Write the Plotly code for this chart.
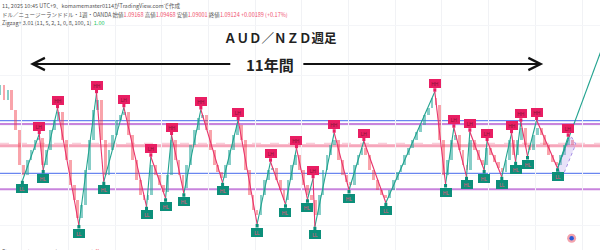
import plotly.graph_objects as go
import pandas as pd

# ---------------- data ----------------
# monthly closes (approx. read from the candles), starting 2013-07
first_open = 1.130
closes = [
    1.140, 1.125, 1.135, 1.115, 1.095, 1.060,                      # 2013 H2
    1.050, 1.065, 1.075, 1.085, 1.087, 1.060, 1.075, 1.095, 1.105, 1.113, 1.085, 1.065,  # 2014
    1.040, 1.025, 1.007, 1.020, 1.055, 1.085, 1.115, 1.125, 1.085, 1.050, 1.075, 1.090,  # 2015
    1.105, 1.110, 1.113, 1.090, 1.065, 1.045, 1.030, 1.025, 1.030, 1.060, 1.050, 1.040,  # 2016
    1.033, 1.050, 1.085, 1.065, 1.050, 1.037, 1.060, 1.080, 1.095, 1.107, 1.110, 1.095,  # 2017
    1.075, 1.060, 1.053, 1.047, 1.060, 1.075, 1.090, 1.100, 1.085, 1.055, 1.030, 1.015,  # 2018
    1.010, 1.030, 1.045, 1.055, 1.057, 1.045, 1.035, 1.025, 1.045, 1.060, 1.070, 1.055,  # 2019
    1.040, 1.030, 1.025, 1.010, 1.030, 1.055, 1.070, 1.080, 1.085, 1.065, 1.050, 1.043,  # 2020
    1.040, 1.060, 1.070, 1.077, 1.070, 1.055, 1.045, 1.035, 1.030, 1.027, 1.035, 1.045,  # 2021
    1.053, 1.060, 1.070, 1.077, 1.085, 1.093, 1.100, 1.110, 1.117, 1.127, 1.120, 1.085,  # 2022
    1.050, 1.065, 1.085, 1.090, 1.075, 1.060, 1.055, 1.085, 1.075, 1.065, 1.060, 1.077,  # 2023
    1.070, 1.063, 1.057, 1.053, 1.065, 1.085, 1.070, 1.085, 1.097, 1.080, 1.075, 1.090,  # 2024
    1.097, 1.090, 1.080, 1.070, 1.063, 1.060, 1.070, 1.080, 1.085, 1.080,                # 2025
]

# zigzag pivots
piv_dates = ["2014-01-06", "2014-05-18", "2014-06-18", "2014-10-08", "2015-03-24",
             "2015-08-09", "2015-10-05", "2016-03-10", "2016-09-03", "2016-10-07",
             "2017-01-30", "2017-03-18", "2017-06-22", "2017-11-02", "2018-04-21",
             "2018-08-21", "2019-01-16", "2019-05-01", "2019-08-26", "2019-11-20",
             "2020-02-14", "2020-03-29", "2020-04-12", "2020-09-10", "2021-01-04",
             "2021-04-30", "2021-10-19", "2022-11-06", "2023-01-29", "2023-04-04",
             "2023-07-12", "2023-08-07", "2023-11-27", "2023-12-20", "2024-04-13",
             "2024-06-28", "2024-07-30", "2024-09-09", "2024-10-31", "2025-01-10",
             "2025-06-23", "2025-09-14"]
piv_prices = [1.0443, 1.0910, 1.0550, 1.1167, 1.0000, 1.1317, 1.0433, 1.1177, 1.0183, 1.0683,
              1.0267, 1.0900, 1.0317, 1.1155, 1.0423, 1.1050, 1.0010, 1.0633, 1.0207, 1.0767,
              1.0257, 1.0467, 0.9983, 1.0923, 1.0350, 1.0840, 1.0223, 1.1333, 1.0410, 1.0973,
              1.0483, 1.0933, 1.0550, 1.0840, 1.0483, 1.0917, 1.0633, 1.1033, 1.0690, 1.1050,
              1.0567, 1.0883]
piv_labels = ["LL", "LH", "HL", "HH", "LL", "HH", "HL", "LH", "LL", "LH",
              "HL", "HH", "HL", "HH", "HL", "LH", "LL", "LH", "HL", "HH",
              "HL", "LH", "LL", "HH", "HL", "LH", "LL", "HH", "HL", "LH",
              "HL", "LH", "HL", "LH", "LL", "HH", "HL", "HH", "HL", "HH",
              "LL", "LH"]

# projected leg after the last low
proj_date, proj_price = "2026-10-23", 1.225

# horizontal levels
level_blue = [1.1043, 1.0517]
level_purple = [1.1010, 1.0357]
level_pink = 1.0793
level_pink_dash = 1.0817

# small channel drawing
chan_dates = ["2025-06-23", "2025-10-05", "2025-11-13", "2025-08-02", "2025-06-23"]
chan_prices = [1.0567, 1.089, 1.081, 1.0487, 1.0567]

# 11-year span arrow
span_start, span_end = "2014-03-07", "2025-03-03"
span_gap_left, span_gap_right = "2018-07-02", "2020-01-01"
span_label_date = "2019-04-23"
span_price = 1.161

icon_date, icon_price = "2025-10-11", 0.9867

# ---------------- figure ----------------
UP = "#22a38f"
DOWN = "#e8336b"
LBL_H = "#e91e63"
LBL_L = "#0c8f7a"
FONT = "Noto Sans CJK JP, Roboto, sans-serif"

fig = go.Figure()

# candles (monthly bodies)
month_dates = pd.date_range("2013-07-01", periods=len(closes), freq="MS") + pd.Timedelta(days=14)
opens = [first_open] + closes[:-1]
colors = ["rgba(38,166,154,0.55)" if c >= o else "rgba(242,54,69,0.45)" for o, c in zip(opens, closes)]
fig.add_trace(go.Bar(x=list(month_dates), y=[c - o for o, c in zip(opens, closes)], base=opens,
                     width=22 * 86400000, marker=dict(color=colors, line=dict(width=0)),
                     hoverinfo="skip", showlegend=False))

# channel
fig.add_trace(go.Scatter(x=chan_dates, y=chan_prices, mode="lines", fill="toself",
                         fillcolor="rgba(180,160,235,0.30)",
                         line=dict(color="rgba(150,120,225,0.8)", width=1, dash="dot"),
                         hoverinfo="skip", showlegend=False))

# zigzag legs
ux, uy, dx, dy = [], [], [], []
for i in range(len(piv_dates) - 1):
    seg_x = [piv_dates[i], piv_dates[i + 1], None]
    seg_y = [piv_prices[i], piv_prices[i + 1], None]
    if piv_prices[i + 1] > piv_prices[i]:
        ux += seg_x; uy += seg_y
    else:
        dx += seg_x; dy += seg_y
ux += [piv_dates[-2], proj_date, None]
uy += [piv_prices[-2], proj_price, None]
fig.add_trace(go.Scatter(x=ux, y=uy, mode="lines", line=dict(color=UP, width=1.1),
                         hoverinfo="skip", showlegend=False, connectgaps=False))
fig.add_trace(go.Scatter(x=dx, y=dy, mode="lines", line=dict(color=DOWN, width=1.1),
                         hoverinfo="skip", showlegend=False, connectgaps=False))

# icon
fig.add_trace(go.Scatter(x=[icon_date], y=[icon_price], mode="markers",
                         marker=dict(size=9, color="#f3a3ad", line=dict(width=0)),
                         hoverinfo="skip", showlegend=False))
fig.add_trace(go.Scatter(x=[icon_date], y=[icon_price], mode="markers",
                         marker=dict(size=4.5, color="#2a5bd7"),
                         hoverinfo="skip", showlegend=False))

shapes = []
for v in level_blue:
    shapes.append(dict(type="line", xref="paper", x0=0, x1=1, yref="y", y0=v, y1=v,
                       line=dict(color="#6a86f0", width=1.3), layer="below"))
for v in level_purple:
    shapes.append(dict(type="line", xref="paper", x0=0, x1=1, yref="y", y0=v, y1=v,
                       line=dict(color="rgba(190,110,215,0.85)", width=2), layer="below"))
shapes.append(dict(type="line", xref="paper", x0=0, x1=1, yref="y", y0=level_pink, y1=level_pink,
                   line=dict(color="rgba(245,150,175,0.85)", width=3), layer="below"))
shapes.append(dict(type="line", xref="paper", x0=0, x1=1, yref="y", y0=level_pink_dash, y1=level_pink_dash,
                   line=dict(color="rgba(245,150,175,0.6)", width=1, dash="dash"), layer="below"))

annotations = []
for d, p, lab in zip(piv_dates, piv_prices, piv_labels):
    high = lab in ("HH", "LH")
    annotations.append(dict(
        x=d, y=p, xref="x", yref="y", text=lab, showarrow=True,
        ax=0, ay=-8 if high else 8, axref="pixel", ayref="pixel",
        arrowhead=0, arrowwidth=3, arrowcolor=LBL_H if high else LBL_L, standoff=0,
        bgcolor=LBL_H if high else LBL_L, borderpad=1.5, borderwidth=0,
        width=9, height=6, align="center", valign="middle",
        font=dict(size=5, color="#8a1538" if high else "#e0577a", family="Roboto")))

# span arrow
annotations.append(dict(x=span_start, y=span_price, ax=span_gap_left, ay=span_price,
                        xref="x", yref="y", axref="x", ayref="y", text="", showarrow=True,
                        arrowhead=5, arrowwidth=2, arrowsize=1.2, arrowcolor="#111", standoff=0))
annotations.append(dict(x=span_end, y=span_price, ax=span_gap_right, ay=span_price,
                        xref="x", yref="y", axref="x", ayref="y", text="", showarrow=True,
                        arrowhead=5, arrowwidth=2, arrowsize=1.2, arrowcolor="#111", standoff=0))
annotations.append(dict(x=span_label_date, y=span_price, xref="x", yref="y", text="<b>11年間</b>",
                        showarrow=False, yanchor="middle",
                        font=dict(size=15, color="#222", family=FONT)))

# title
annotations.append(dict(x=0.4667, y=0.851, xref="paper", yref="paper",
                        xanchor="center", yanchor="middle",
                        text="<b>ＡＵＤ／ＮＺＤ週足</b>", showarrow=False,
                        font=dict(size=12.5, color="#222", family=FONT)))

# header lines
R = "#f0506e"
annotations.append(dict(x=0, y=0.977, xref="paper", yref="paper", xanchor="left", yanchor="middle",
                        text="11, 2025 10:45 UTC+9、komamemaster0114がTradingView.comで作成",
                        showarrow=False, font=dict(size=5.5, color="#555", family=FONT)))
annotations.append(dict(x=0, y=0.94, xref="paper", yref="paper", xanchor="left", yanchor="middle",
                        text=("ドル／ニュージーランドドル・1週・OANDA 始値<span style='color:%s'>1.09168</span> "
                              "高値<span style='color:%s'>1.09468</span> 安値<span style='color:%s'>1.09001</span> "
                              "終値<span style='color:%s'>1.09124 +0.00189 (+0.17%%)</span>") % (R, R, R, R),
                        showarrow=False, font=dict(size=5.5, color="#555", family=FONT)))
annotations.append(dict(x=0, y=0.907, xref="paper", yref="paper", xanchor="left", yanchor="middle",
                        text="Zigzag+ 3.01 (11, 5, 2, 1, 0, 8, 100, 1)  <span style='color:#22c55e'>1.00</span>",
                        showarrow=False, font=dict(size=5.5, color="#555", family=FONT)))
annotations.append(dict(x=0, y=0.016, xref="paper", yref="paper", xanchor="left", yanchor="top",
                        text=("Show pat (9, 26, 52, close, 0, 80, -80)  <span style='color:#f23645'>X1.08070</span>  "
                              "<span style='color:#5b6ee8'>-11.0444</span>  <span style='color:#22a38f'>-13.9444</span>"),
                        showarrow=False, font=dict(size=5.5, color="#555", family=FONT)))

fig.update_layout(
    width=600, height=250, margin=dict(l=0, r=0, t=0, b=0),
    paper_bgcolor="white", plot_bgcolor="white",
    shapes=shapes, annotations=annotations, showlegend=False, bargap=0,
    xaxis=dict(type="date", range=["2013-07-15", "2026-05-21"], showticklabels=False,
               showgrid=True, gridcolor="#f1f2f5", gridwidth=1, dtick="M12", tick0="2014-01-01",
               zeroline=False, showline=False, ticks=""),
    yaxis=dict(range=[0.975, 1.225], showticklabels=False, showgrid=True, gridcolor="#f4f5f8",
               dtick=0.05, zeroline=False, showline=False, ticks=""),
)

fig.write_html("out.html")
